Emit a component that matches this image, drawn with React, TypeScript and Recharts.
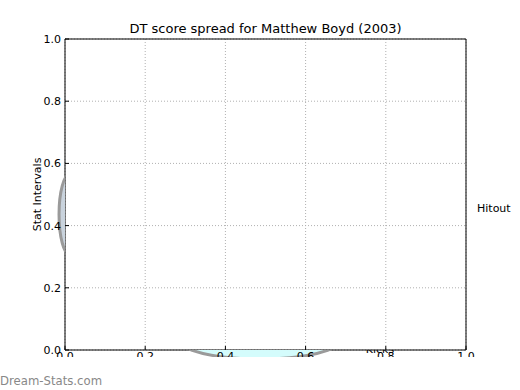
import React from 'react';
import { ComposedChart, Scatter, XAxis, YAxis, CartesianGrid, ReferenceArea } from 'recharts';

// chart content
const chartTitle = 'DT score spread for Matthew Boyd (2003)';
const yLabel = 'Stat Intervals';
const spokeLabels = ['Hitout', 'Kicks'];
const xTicks = [0, 0.2, 0.4, 0.6, 0.8, 1.0];
const yTicks = [0, 0.2, 0.4, 0.6, 0.8, 1.0];

// the two spread blobs (centre and radius in axis units)
const blobCenterX = [0.0125, 0.486];
const blobCenterY = [0.436, 0.032];
const blobRadiusX = [0.0274, 0.201];
const blobRadiusY = [0.13, 0.061];

const blobFill = ['#c9d3dd', '#d4fcfc'];
const blobStroke = ['#9a9a9a', '#9a9a9a'];

// layout
const W = 520;
const H = 390;
const PLOT_L = 65;
const PLOT_T = 39;
const PLOT_R = 466;
const PLOT_B = 350;
const PLOT_W = PLOT_R - PLOT_L;
const PLOT_H = PLOT_B - PLOT_T;
const CUT_Y = 357;
const FONT = '"DejaVu Sans", sans-serif';

const blobs = blobCenterX.map((x, i) => ({
  id: i,
  x,
  y: blobCenterY[i],
  rx: blobRadiusX[i],
  ry: blobRadiusY[i],
}));

const BlobShape = (props: any) => {
  const { cx, cy, payload } = props;
  const id = `blob-clip-${payload.id}`;
  return (
    <g>
      <defs>
        <clipPath id={id}>
          <path
            clipRule="evenodd"
            d={`M0 0 H${W} V${CUT_Y} H0 Z M${PLOT_L} ${PLOT_T} V${PLOT_B} H${PLOT_R} V${PLOT_T} Z`}
          />
        </clipPath>
      </defs>
      <ellipse
        cx={cx}
        cy={cy}
        rx={payload.rx * PLOT_W}
        ry={payload.ry * PLOT_H}
        fill={blobFill[payload.id]}
        stroke={blobStroke[payload.id]}
        strokeWidth={3}
        clipPath={`url(#${id})`}
      />
    </g>
  );
};

const XTick = (props: any) => {
  const { x, y, payload, index } = props;
  const id = `xtick-clip-${index}`;
  return (
    <g>
      <defs>
        <clipPath id={id}>
          <rect x={x - 20} y={y - 4} width={40} height={CUT_Y - (y - 4)} />
        </clipPath>
      </defs>
      <text
        x={x}
        y={y}
        dy="0.71em"
        textAnchor="middle"
        fontSize={11}
        fontFamily={FONT}
        fill="#000"
        clipPath={`url(#${id})`}
      >
        {Number(payload.value).toFixed(1)}
      </text>
    </g>
  );
};

const NoTick = () => <g />;

const tickLineStyle = { stroke: '#000', strokeWidth: 1 };

export default function App() {
  return (
    <div style={{ position: 'absolute', left: 0, top: 0, width: W, height: H, background: '#fff' }}>
      <ComposedChart
        width={W}
        height={H}
        margin={{ top: PLOT_T, right: W - PLOT_R, bottom: 10, left: 25 }}
      >
        <CartesianGrid stroke="#b0b0b0" strokeDasharray="1 2" />
        <XAxis
          dataKey="x"
          type="number"
          domain={[0, 1]}
          ticks={xTicks}
          height={H - 10 - PLOT_B}
          axisLine={false}
          tickLine={tickLineStyle}
          tickSize={-4}
          tickMargin={6}
          tick={<XTick />}
        />
        <XAxis
          xAxisId="top"
          orientation="top"
          type="number"
          domain={[0, 1]}
          ticks={xTicks}
          height={0}
          axisLine={false}
          tickLine={tickLineStyle}
          tickSize={-4}
          tick={<NoTick />}
        />
        <YAxis
          dataKey="y"
          type="number"
          domain={[0, 1]}
          ticks={yTicks}
          width={PLOT_L - 25}
          axisLine={false}
          tickLine={tickLineStyle}
          tickSize={-4}
          tickMargin={8}
          tickFormatter={(v: number) => v.toFixed(1)}
          tick={{ fontSize: 11, fontFamily: FONT, fill: '#000' }}
        />
        <YAxis
          yAxisId="right"
          orientation="right"
          type="number"
          domain={[0, 1]}
          ticks={yTicks}
          width={0}
          axisLine={false}
          tickLine={tickLineStyle}
          tickSize={-4}
          tick={<NoTick />}
        />
        <Scatter data={blobs} shape={<BlobShape />} isAnimationActive={false} />
        <ReferenceArea x1={0} x2={1} y1={0} y2={1} fill="none" stroke="#000" strokeWidth={1} fillOpacity={0} />
      </ComposedChart>
      <svg
        width={W}
        height={H}
        style={{ position: 'absolute', left: 0, top: 0, pointerEvents: 'none' }}
      >
        <defs>
          <clipPath id="spoke-clip">
            <rect x={PLOT_L} y={PLOT_B} width={PLOT_W} height={CUT_Y - PLOT_B} />
          </clipPath>
        </defs>
        <text x={(PLOT_L + PLOT_R) / 2} y={33} textAnchor="middle" fontSize={13} fontFamily={FONT} fill="#000">
          {chartTitle}
        </text>
        <text
          transform={`translate(41, ${(PLOT_T + PLOT_B) / 2}) rotate(-90)`}
          textAnchor="middle"
          fontSize={11}
          fontFamily={FONT}
          fill="#000"
        >
          {yLabel}
        </text>
        <text x={477} y={212} fontSize={11} fontFamily={FONT} fill="#000">
          {spokeLabels[0]}
        </text>
        <text
          x={380}
          y={352.5}
          textAnchor="middle"
          fontSize={11}
          fontFamily={FONT}
          fill="#000"
          clipPath="url(#spoke-clip)"
        >
          {spokeLabels[1]}
        </text>
        <text x={0} y={385} fontSize={11.7} fontFamily={FONT} fill="#888">
          Dream-Stats.com
        </text>
      </svg>
    </div>
  );
}
